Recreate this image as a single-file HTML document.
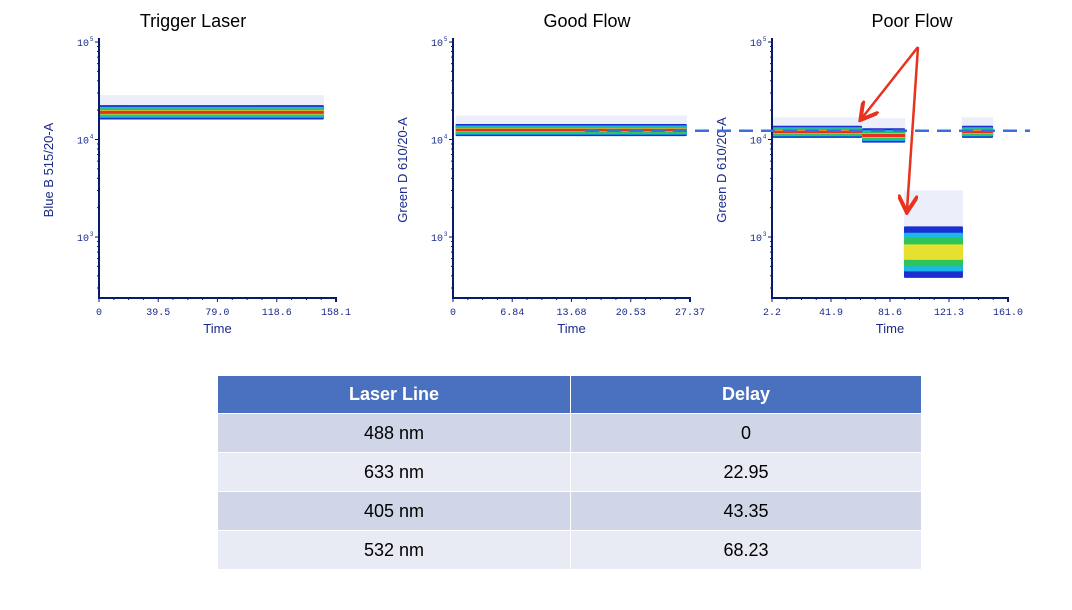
<!DOCTYPE html>
<html><head><meta charset="utf-8">
<style>
body{margin:0;background:#fff;width:1072px;height:610px;overflow:hidden;font-family:"Liberation Sans",sans-serif;}
svg{position:absolute;left:0;top:0}
.tbl{position:absolute;left:217px;top:375px;width:705px;border-collapse:collapse;font-family:"Liberation Sans",sans-serif;font-size:18px;}
.tbl td,.tbl th{height:38px;text-align:center;border:1px solid #fff;padding:0}
.tbl th{background:#4a71bf;color:#fff;font-weight:bold;height:37px}
.tbl tr.o td{background:#d0d6e7}
.tbl tr.e td{background:#e9ebf4}
</style></head><body>
<svg id="chart" width="1072" height="610"></svg>
<table class="tbl">
<tr><th style="width:352px">Laser Line</th><th>Delay</th></tr>
<tr class="o"><td>488 nm</td><td>0</td></tr>
<tr class="e"><td>633 nm</td><td>22.95</td></tr>
<tr class="o"><td>405 nm</td><td>43.35</td></tr>
<tr class="e"><td>532 nm</td><td>68.23</td></tr>
</table>
<script>
// data arrays
const panelTitles=["Trigger Laser","Good Flow","Poor Flow"];
const yLabels=["Blue B 515/20-A","Green D 610/20-A","Green D 610/20-A"];
const xTicks1=[0,39.5,79.0,118.6,158.1];
const xTicks2=[0,6.84,13.68,20.53,27.37];
const xTicks3=[2.2,41.9,81.6,121.3,161.0];
const xTickLabels1=["0","39.5","79.0","118.6","158.1"];
const xTickLabels2=["0","6.84","13.68","20.53","27.37"];
const xTickLabels3=["2.2","41.9","81.6","121.3","161.0"];
// populations: [tStart,tEnd,center value,spread factor,peak density level 1-5]
const pops1=[[0,150,19000,1.12,5]];
const pops2=[[0.3,27,12500,1.1,5]];
const pops3=[[2.2,62.8,12000,1.1,5],[62.8,91.8,11000,1.12,5],[130,151,12000,1.1,5],[91,130.7,700,1.5,4]];
const gateValue=12300;

const svg=document.getElementById('chart');
const NS='http://www.w3.org/2000/svg';
function mk(tag,attrs,parent){const e=document.createElementNS(NS,tag);for(const k in attrs)e.setAttribute(k,attrs[k]);(parent||svg).appendChild(e);return e;}
const panels=[
 {x0:99,x1:336,ticks:xTicks1,labels:xTickLabels1,pops:pops1,tx:193},
 {x0:453,x1:690,ticks:xTicks2,labels:xTickLabels2,pops:pops2,tx:587},
 {x0:772,x1:1008,ticks:xTicks3,labels:xTickLabels3,pops:pops3,tx:912}];
const yTop=42,yBot=298,dec=97.5;
function ys(v){return yTop+(5-Math.log10(v))*dec;}
const bandColors=[["#1a2fd0",1.0],["#19b8e8",0.75],["#2fc45a",0.55],["#e8e030",0.3],["#e83020",0.22]];
panels.forEach((p,i)=>{
 const lo=p.ticks[0],hi=p.ticks[p.ticks.length-1];
 const xs=t=>p.x0+(t-lo)/(hi-lo)*(p.x1-p.x0);
 const g=mk('g',{});
 
 
 const t=mk('text',{x:p.tx,y:27,'font-size':18,'text-anchor':'middle',fill:'#000'},g);t.textContent=panelTitles[i];
 
 
 p.pops.forEach(pp=>{
  const xa=xs(pp[0]),xb=xs(pp[1]);
  const yc=ys(pp[2]);
  const h=Math.log10(pp[3])*dec;
  const sc=mk('rect',{x:xa,y:yc-h*3.6,width:xb-xa,height:h*2.2,fill:'#8090e0',opacity:0.15},g);
  
  
  bandColors.slice(0,pp[4]).forEach(c=>{
   const r=mk('rect',{x:xa,y:yc-h*c[1]*1.5,width:xb-xa,height:h*c[1]*3,fill:c[0],rx:1},g);
   
   
  });
 });
 const ax=mk('path',{d:`M${p.x0} ${yTop-4}V${yBot}H${p.x1}V${yBot+4}`,stroke:'#0a1a6a','stroke-width':2,fill:'none'},g);
 
 
 for(let e=3;e<=5;e++){
  const yy=ys(Math.pow(10,e));
  const tl=mk('text',{x:p.x0-10,y:yy+4,'font-size':10,'text-anchor':'end',fill:'#1a2a8a','font-family':'Liberation Mono'},g);
  tl.textContent='10';
  
  
  const sup=mk('text',{x:p.x0-9,y:yy-1,'font-size':6,fill:'#1a2a8a'},g);sup.textContent=e;
  mk('line',{x1:p.x0-4,x2:p.x0,y1:yy,y2:yy,stroke:'#0a1a6a'},g);
 }
 for(let e=2;e<5;e++)for(let m=2;m<10;m++){const v=m*Math.pow(10,e);const yy=ys(v);if(yy<yBot)mk('line',{x1:p.x0-2,x2:p.x0,y1:yy,y2:yy,stroke:'#0a1a6a'},g);}
 p.ticks.forEach((tv,k)=>{
  const xx=xs(tv);
  mk('line',{x1:xx,x2:xx,y1:yBot,y2:yBot+4,stroke:'#0a1a6a'},g);
  const tl=mk('text',{x:xx,y:yBot+17,'font-size':10,'text-anchor':'middle',fill:'#1a2a8a','font-family':'Liberation Mono'},g);
  tl.textContent=p.labels[k];
  
  
  if(k<p.ticks.length-1)for(let j=1;j<4;j++){const xm=xs(tv+(p.ticks[k+1]-tv)*j/4);mk('line',{x1:xm,x2:xm,y1:yBot,y2:yBot+2,stroke:'#0a1a6a'},g);}
 });
 const xt=mk('text',{x:(p.x0+p.x1)/2,y:yBot+35,'font-size':13,'text-anchor':'middle',fill:'#1a2a8a'},g);xt.textContent='Time';
 
 
 const yl=mk('text',{x:0,y:0,'font-size':13,'text-anchor':'middle',fill:'#1a2a8a',transform:`translate(${p.x0-46},${170}) rotate(-90)`},g);yl.textContent=yLabels[i];
 
 
});
const gl=mk('line',{x1:585,x2:1030,y1:ys(gateValue),y2:ys(gateValue),stroke:'#3a6ee0','stroke-width':2.5,'stroke-dasharray':'14 8'});


const defs=mk('defs',{});
const mkr=mk('marker',{id:'ah',markerWidth:8,markerHeight:8,refX:6,refY:4,orient:'auto'},defs);
mk('path',{d:'M0 0L7 4L0 8',fill:'none',stroke:'#e8321e','stroke-width':1.6},mkr);
[[862,118],[907,210]].forEach(a=>{
 const l=mk('line',{x1:918,y1:47,x2:a[0],y2:a[1],stroke:'#e8321e','stroke-width':2.5,'marker-end':'url(#ah)'});
 
 
});
</script>
</body></html>
